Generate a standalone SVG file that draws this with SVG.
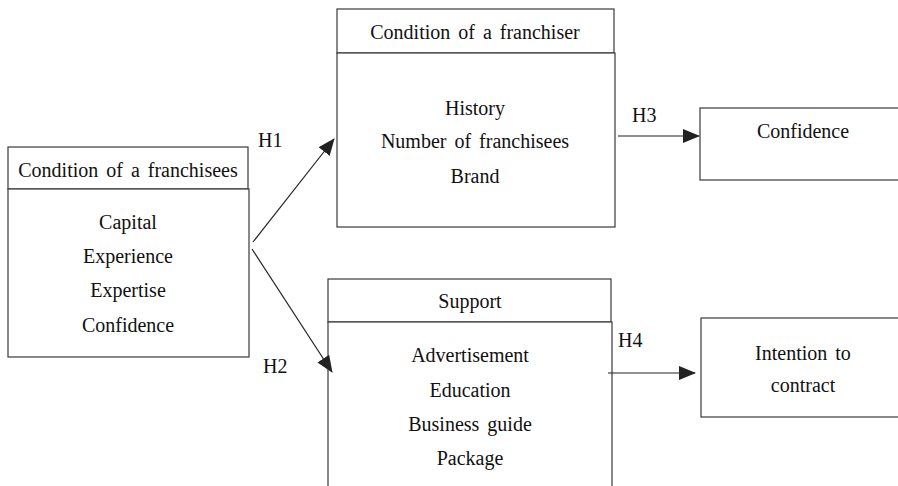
<svg xmlns="http://www.w3.org/2000/svg" width="898" height="486" viewBox="0 0 898 486">
<style>
.box{fill:#fff;stroke:#3a3a3a;stroke-width:1.2}
.t{font-family:"Liberation Serif","Times New Roman",serif;font-size:20px;fill:#111;text-anchor:middle;word-spacing:3px}
.l{font-family:"Liberation Serif","Times New Roman",serif;font-size:20px;fill:#111}
.c{stroke:#222;stroke-width:1.2;fill:none}
</style>
<defs>
<marker id="ah" markerWidth="17" markerHeight="14" refX="16" refY="7" orient="auto" markerUnits="userSpaceOnUse">
<path d="M0,0 L17,7 L0,14 Z" fill="#222"/>
</marker>
</defs>
<rect width="898" height="486" fill="#fff"/>
<g id="franchisees">
<rect class="box" x="8" y="147" width="240" height="42"/>
<rect class="box" x="8" y="189" width="241" height="168"/>
<text class="t" x="128" y="177">Condition of a franchisees</text>
<text class="t" x="128" y="229">Capital</text>
<text class="t" x="128" y="263">Experience</text>
<text class="t" x="128" y="297">Expertise</text>
<text class="t" x="128" y="332">Confidence</text>
</g>
<g id="franchiser">
<rect class="box" x="337" y="9" width="277" height="44"/>
<rect class="box" x="337" y="53" width="278" height="174"/>
<text class="t" x="475" y="39">Condition of a franchiser</text>
<text class="t" x="475" y="115">History</text>
<text class="t" x="475" y="148">Number of franchisees</text>
<text class="t" x="475" y="183">Brand</text>
</g>
<g id="support">
<rect class="box" x="328" y="279" width="283" height="43"/>
<rect class="box" x="328" y="322" width="284" height="200"/>
<text class="t" x="470" y="308">Support</text>
<text class="t" x="470" y="362">Advertisement</text>
<text class="t" x="470" y="397">Education</text>
<text class="t" x="470" y="431">Business guide</text>
<text class="t" x="470" y="465">Package</text>
</g>
<g id="confidence">
<rect class="box" x="700" y="108" width="220" height="72"/>
<text class="t" x="803" y="138">Confidence</text>
</g>
<g id="intention">
<rect class="box" x="701" y="318" width="220" height="99"/>
<text class="t" x="803" y="360">Intention to</text>
<text class="t" x="803" y="392">contract</text>
</g>
<g id="connectors">
<line class="c" x1="253" y1="242" x2="334" y2="139" marker-end="url(#ah)"/>
<line class="c" x1="252" y1="249" x2="332" y2="372" marker-end="url(#ah)"/>
<line class="c" x1="618" y1="136" x2="699" y2="136" marker-end="url(#ah)"/>
<line class="c" x1="608" y1="373" x2="695" y2="373" marker-end="url(#ah)"/>
<text class="l" x="258" y="147">H1</text>
<text class="l" x="263" y="373">H2</text>
<text class="l" x="632" y="122">H3</text>
<text class="l" x="618" y="347">H4</text>
</g>
</svg>
